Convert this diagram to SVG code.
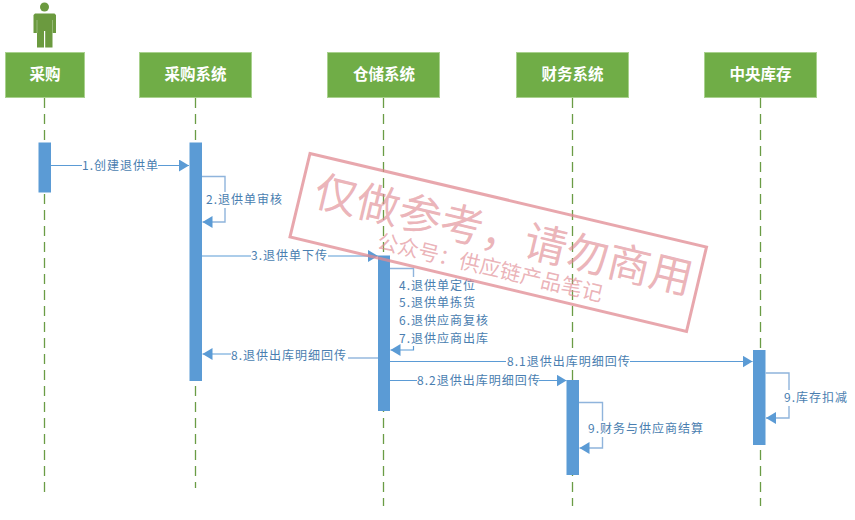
<svg xmlns="http://www.w3.org/2000/svg" width="855" height="520" viewBox="0 0 855 520">
<style>
.head{fill:#70ad47;stroke:#a9d18e;stroke-width:1}
.headt{font:bold 15.500px "Noto Sans CJK SC","Liberation Sans",sans-serif;fill:#fff;text-anchor:middle}
.life{stroke:#6a9c45;stroke-width:1.3;stroke-dasharray:10 6;fill:none}
.act{fill:#5b9bd5}
.c{stroke:#5b9bd5;stroke-width:1.2;fill:none}
.s{stroke:#8fb4dc;stroke-width:1.4;fill:none}
.l{font:12px "Noto Sans CJK SC","Liberation Sans",sans-serif;fill:#4a7eb0;letter-spacing:1px}
.bg{fill:#fff}
.w1{font:43px "Noto Sans CJK SC","Liberation Sans",sans-serif;fill:#e08a92;fill-opacity:.65}
.w2{font:21px "Noto Sans CJK SC","Liberation Sans",sans-serif;fill:#e08a92;fill-opacity:.65}
</style>
<defs>
<marker id="a" markerUnits="userSpaceOnUse" markerWidth="11" markerHeight="12" refX="10" refY="6" orient="auto"><path d="M0 0L10 6L0 12Z" fill="#5b9bd5"/></marker>
</defs>
<g id="lifelines">
<path class="life" d="M44.500 98V498"/>
<path class="life" d="M195.500 98V488"/>
<path class="life" d="M383.500 98V506"/>
<path class="life" d="M572.500 98V506"/>
<path class="life" d="M760.500 98V506"/>
</g>
<g id="actor"><circle cx="44.500" cy="7" r="4.500" fill="#6b9a3f"/><path d="M35 13.500H54.500L56 15V33H52.500V47.500H45.200V31H44V47.500H37V33H33.500V15Z" fill="#6b9a3f"/><path d="M37 20V33M52.500 20V33" stroke="#a9c78f" stroke-width=".7"/></g>
<g id="n1"><rect class="head" x="5.500" y="52.500" width="79" height="45"/><text class="headt" x="45" y="80">采购</text></g>
<g id="n2"><rect class="head" x="139.500" y="52.500" width="112" height="45"/><text class="headt" x="195.500" y="80">采购系统</text></g>
<g id="n3"><rect class="head" x="327.500" y="52.500" width="112" height="45"/><text class="headt" x="384" y="80">仓储系统</text></g>
<g id="n4"><rect class="head" x="516.500" y="52.500" width="112" height="45"/><text class="headt" x="572.500" y="80">财务系统</text></g>
<g id="n5"><rect class="head" x="704.500" y="52.500" width="112" height="45"/><text class="headt" x="760.500" y="80">中央库存</text></g>
<g id="activations">
<rect class="act" x="38.500" y="142.500" width="12.500" height="50"/>
<rect class="act" x="189.500" y="142.500" width="12.500" height="238.500"/>
<rect class="act" x="378" y="255.500" width="12" height="155.500"/>
<rect class="act" x="566.500" y="380" width="12.500" height="95"/>
<rect class="act" x="753" y="350" width="12.500" height="95"/>
</g>
<g id="connectors">
<path class="c" d="M51 165.500H189" marker-end="url(#a)"/>
<path class="s" d="M202 176.500H225V222H202.500" marker-end="url(#a)"/>
<path class="c" d="M202 256H378" marker-end="url(#a)"/>
<path class="s" d="M390 268.500H413.500V277"/>
<path class="c" d="M413.500 346V350H390.500" marker-end="url(#a)"/>
<path class="s" d="M378 358H348"/>
<path class="c" d="M340 354H202.500" marker-end="url(#a)"/>
<path class="c" d="M390 361.500H752.500" marker-end="url(#a)"/>
<path class="c" d="M390 380.500H566.500" marker-end="url(#a)"/>
<path class="s" d="M579 402.500H602.500V448H579.500" marker-end="url(#a)"/>
<path class="s" d="M765.500 373H789V418H766" marker-end="url(#a)"/>
</g>
<g id="labels">
<rect class="bg" x="82" y="158" width="76" height="16"/><text class="l" x="82" y="170">1.创建退供单</text>
<rect class="bg" x="205" y="192" width="77" height="16"/><text class="l" x="206" y="204">2.退供单审核</text>
<rect class="bg" x="251" y="248" width="77" height="16"/><text class="l" x="251" y="260">3.退供单下传</text>
<text class="l" x="399" y="290">4.退供单定位</text>
<text class="l" x="399" y="307">5.退供单拣货</text>
<text class="l" x="399" y="325">6.退供应商复核</text>
<text class="l" x="399" y="343">7.退供应商出库</text>
<rect class="bg" x="231" y="348" width="117" height="16"/><text class="l" x="231" y="360">8.退供出库明细回传</text>
<rect class="bg" x="506" y="354" width="124" height="16"/><text class="l" x="507" y="366">8.1退供出库明细回传</text>
<rect class="bg" x="417" y="373" width="122" height="16"/><text class="l" x="417" y="385">8.2退供出库明细回传</text>
<rect class="bg" x="588" y="421" width="116" height="16"/><text class="l" x="588" y="433">9.财务与供应商结算</text>
<rect class="bg" x="784" y="390" width="63" height="16"/><text class="l" x="784" y="402">9.库存扣减</text>
</g>
<g id="watermark">
<path d="M310 153.500L706.500 247L686.500 331.500L290 237Z" fill="none" stroke="#e08a92" stroke-opacity=".75" stroke-width="3"/>
<text class="w1" transform="translate(312 205) rotate(13.400)">仅做参考，请勿商用</text>
<text class="w2" transform="translate(376 248) rotate(13.400)">公众号：供应链产品笔记</text>
</g>
</svg>
